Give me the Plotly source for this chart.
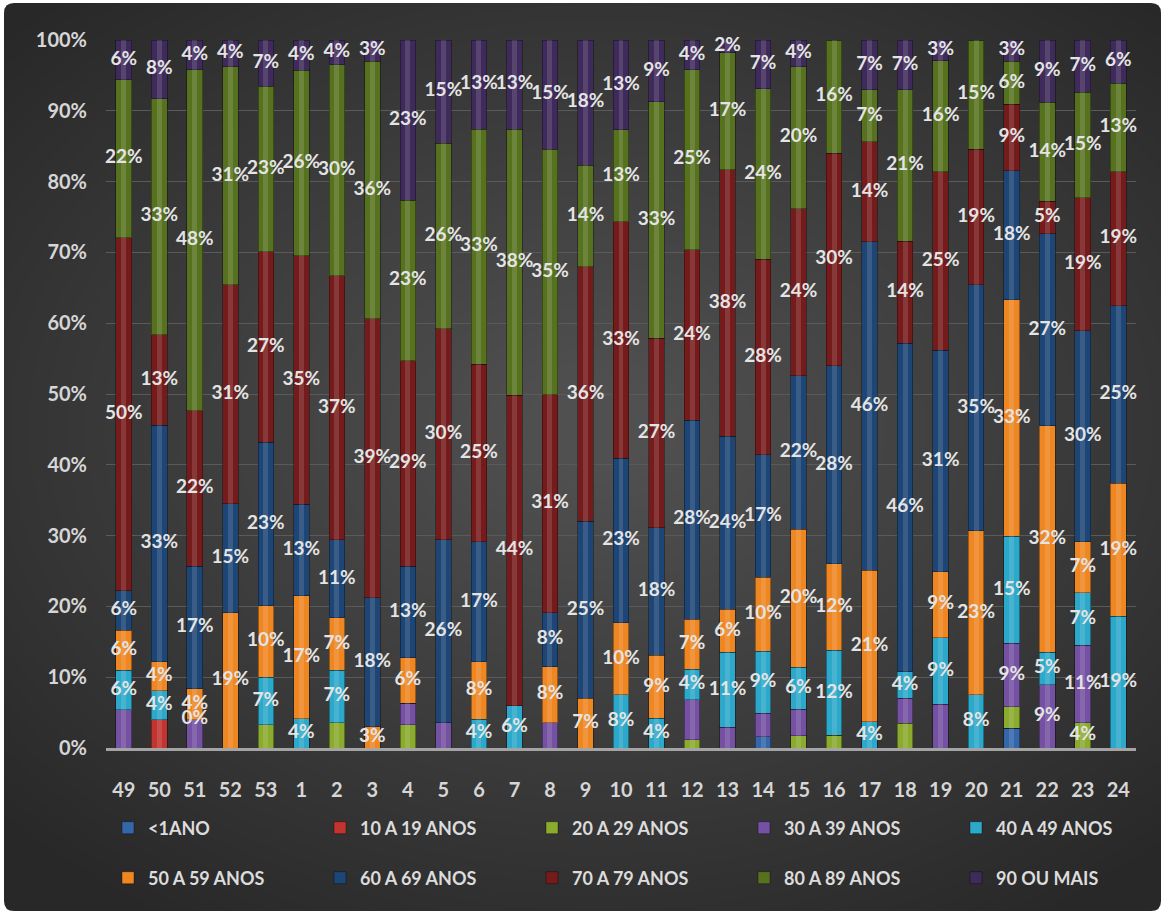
import math
import plotly.graph_objects as go

# ---------------- data ----------------
weeks = ["49", "50", "51", "52", "53"] + [str(i) for i in range(1, 25)]

series_names = ["<1ANO", "10 A 19 ANOS", "20 A 29 ANOS", "30 A 39 ANOS", "40 A 49 ANOS",
                "50 A 59 ANOS", "60 A 69 ANOS", "70 A 79 ANOS", "80 A 89 ANOS", "90 OU MAIS"]

#            49    50    51    52    53    1     2     3     4     5     6     7     8     9     10    11    12    13    14    15    16    17    18    19    20    21    22    23    24
lt1   = [0,    0,    0,    0,    0,    0,    0,    0,    0,    0,    0,    0,    0,    0,    0,    0,    0,    0,    1.6,  0,    0,    0,    0,    0,    0,    2.8,  0,    0,    0]
a10   = [0,    4.0,  0,    0,    0,    0,    0,    0,    0,    0,    0,    0,    0,    0,    0,    0,    0,    0,    0,    0,    0,    0,    0,    0,    0,    0,    0,    0,    0]
a20   = [0,    0,    0,    0,    3.25, 0,    3.6,  0,    3.25, 0,    0,    0,    0,    0,    0,    0,    1.2,  0,    0,    1.7,  1.8,  0,    3.5,  0,    0,    3.0,  0,    3.6,  0]
a30   = [5.4,  0,    4.0,  0,    0,    0,    0,    0,    3.05, 3.6,  0,    0,    3.6,  0,    0,    0,    5.6,  2.9,  3.3,  3.8,  0,    0,    3.5,  6.2,  0,    9.0,  8.9,  10.9, 0]
a40   = [5.6,  4.1,  0,    0,    6.75, 4.1,  7.4,  0,    0,    0,    4.05, 6.0,  0,    0,    7.5,  4.2,  4.3,  10.6, 8.8,  5.9,  12.0, 3.7,  3.8,  9.4,  7.5,  15.1, 4.6,  7.4,  18.6]
a50   = [5.6,  4.1,  4.4,  19.1, 10.1, 17.4, 7.4,  3.0,  6.45, 0,    8.15, 0,    7.9,  7.0,  10.2, 8.9,  7.1,  6.1,  10.4, 19.5, 12.2, 21.4, 0,    9.3,  23.2, 33.4, 32.0, 7.2,  18.8]
a60   = [5.6,  33.4, 17.3, 15.4, 23.1, 12.9, 11.0, 18.2, 12.95, 25.8, 16.9, 0,   7.6,  25.0, 23.2, 18.0, 28.1, 24.4, 17.3, 21.7, 28.0, 46.4, 46.4, 31.3, 34.7, 18.2, 27.1, 29.8, 25.1]
a70   = [49.9, 12.8, 21.9, 30.9, 26.9, 35.1, 37.3, 39.4, 29.0, 29.8, 25.1, 43.8, 30.8, 36.0, 33.4, 26.8, 24.1, 37.7, 27.6, 23.6, 30.0, 14.1, 14.4, 25.2, 19.2, 9.4,  4.6,  18.8, 18.9]
a80   = [22.3, 33.3, 48.2, 30.8, 23.4, 26.2, 29.8, 36.4, 22.7, 26.2, 33.2, 37.6, 34.7, 14.3, 13.0, 33.4, 25.4, 16.5, 24.1, 20.0, 16.0, 7.4,  21.4, 15.7, 15.4, 6.1,  14.0, 14.9, 12.5]
a90   = [5.6,  8.3,  4.2,  3.8,  6.5,  4.3,  3.5,  3.0,  22.6, 14.6, 12.6, 12.6, 15.4, 17.7, 12.7, 8.7,  4.2,  1.8,  6.9,  3.8,  0,    7.0,  7.0,  2.9,  0,    3.0,  8.8,  7.4,  6.1]

series_values = [lt1, a10, a20, a30, a40, a50, a60, a70, a80, a90]

# series whose labels are always shown (when non-zero) and extra individual labels
labeled_series = ["40 A 49 ANOS", "50 A 59 ANOS", "60 A 69 ANOS", "70 A 79 ANOS", "80 A 89 ANOS", "90 OU MAIS"]
extra_labels = [("51", "40 A 49 ANOS"), ("21", "30 A 39 ANOS"), ("22", "30 A 39 ANOS"),
                ("23", "30 A 39 ANOS"), ("23", "20 A 29 ANOS")]

colors = ["#3466aa", "#c23430", "#8aab2e", "#7551a3", "#2ca8ca",
          "#ee8621", "#1d4676", "#761b1b", "#57721f", "#3e2a5b"]

# ---------------- geometry ----------------
W, H = 1165, 914
ML, MR, MT, MB = 106, 29, 40, 166
PW, PH = W - ML - MR, H - MT - MB


def px2x(p):
    return (p - ML) / PW


def py2y(p):
    return 1 - (p - MT) / PH


fig = go.Figure()

for idx, (name, vals, col) in enumerate(zip(series_names, series_values, colors)):
    fig.add_trace(go.Bar(
        x=weeks, y=vals, name=name, width=0.44,
        marker=dict(color=col, line=dict(color="rgba(0,0,0,0.35)", width=1)),
        legend="legend" if idx < 5 else "legend2",
        hoverinfo="x+y+name",
    ))

# highlight stripe (cylinder look) across full stacked height
totals = [sum(s[i] for s in series_values) for i in range(len(weeks))]
fig.add_trace(go.Bar(
    x=weeks, y=totals, width=0.14, xaxis="x2", yaxis="y",
    marker=dict(color="rgba(255,255,255,0.13)", line=dict(width=0)),
    showlegend=False, hoverinfo="skip",
))

# labels
lx, ly, lt = [], [], []
for i, w in enumerate(weeks):
    cum = 0.0
    for name, vals in zip(series_names, series_values):
        v = vals[i]
        show = (name in labeled_series and v > 0) or ((w, name) in extra_labels)
        if show:
            lx.append(w)
            ly.append(cum + v / 2)
            lt.append(f"{int(math.floor(v + 0.5))}%")
        cum += v

fig.add_trace(go.Scatter(
    x=lx, y=ly, text=lt, mode="text", xaxis="x2", yaxis="y",
    textfont=dict(family="Lato", size=19, color="#e4e4e4", weight="bold"),
    showlegend=False, hoverinfo="skip", cliponaxis=False,
))

# background shapes
shapes = []
r = 10
x0p, x1p, y0p, y1p = 4, 1161, 3, 911
path = (f"M {px2x(x0p + r)},{py2y(y0p)} L {px2x(x1p - r)},{py2y(y0p)} "
        f"Q {px2x(x1p)},{py2y(y0p)} {px2x(x1p)},{py2y(y0p + r)} "
        f"L {px2x(x1p)},{py2y(y1p - r)} Q {px2x(x1p)},{py2y(y1p)} {px2x(x1p - r)},{py2y(y1p)} "
        f"L {px2x(x0p + r)},{py2y(y1p)} Q {px2x(x0p)},{py2y(y1p)} {px2x(x0p)},{py2y(y1p - r)} "
        f"L {px2x(x0p)},{py2y(y0p + r)} Q {px2x(x0p)},{py2y(y0p)} {px2x(x0p + r)},{py2y(y0p)} Z")
shapes.append(dict(type="path", path=path, xref="paper", yref="paper",
                   fillcolor="#282828", line=dict(width=0), layer="below"))
cx, cy = 600, 430
n = 40
for k in range(n):
    rx = 800 - k * 19
    ry = rx * 0.72
    shapes.append(dict(type="circle", xref="paper", yref="paper",
                       x0=px2x(cx - rx), x1=px2x(cx + rx), y0=py2y(cy + ry), y1=py2y(cy - ry),
                       fillcolor="rgba(255,255,255,0.006)", line=dict(width=0), layer="below"))

tickfont = dict(family="Lato", size=20, color="#d6d6d6", weight="bold")
legfont = dict(family="Lato", size=18, color="#dcdcdc", weight="bold")

xrange = [-0.5, len(weeks) - 0.5]
leg_common = dict(orientation="h", x=px2x(105), xanchor="left", yanchor="middle", indentation=3,
                  entrywidth=164, entrywidthmode="pixels", traceorder="normal",
                  font=legfont, bgcolor="rgba(0,0,0,0)")

fig.update_layout(
    width=W, height=H, autosize=False,
    margin=dict(l=ML, r=MR, t=MT, b=MB, autoexpand=False),
    paper_bgcolor="white", plot_bgcolor="rgba(0,0,0,0)",
    barmode="stack", bargap=0.56,
    shapes=shapes,
    xaxis=dict(type="category", categoryorder="array", categoryarray=weeks, range=xrange,
               showgrid=False, zeroline=False, showline=True, linecolor="#a4a4a4", linewidth=3,
               ticks="", tickfont=tickfont, ticklabelstandoff=22),
    xaxis2=dict(type="category", categoryorder="array", categoryarray=weeks, overlaying="x",
                range=xrange, matches="x", showgrid=False, zeroline=False, showline=False,
                showticklabels=False),
    yaxis=dict(range=[0, 100], tickvals=list(range(0, 101, 10)),
               ticktext=[f"{v}%" for v in range(0, 101, 10)],
               showgrid=True, gridcolor="#5a5a5a", gridwidth=1, zeroline=False, showline=False,
               ticks="", tickfont=tickfont, ticklabelstandoff=18),
    legend=dict(y=py2y(828), **leg_common),
    legend2=dict(y=py2y(878), **leg_common),
    showlegend=True,
)

fig.write_html("out.html", config={"displayModeBar": False},
               post_script="document.body.style.margin='0';document.body.style.overflow='hidden';")
